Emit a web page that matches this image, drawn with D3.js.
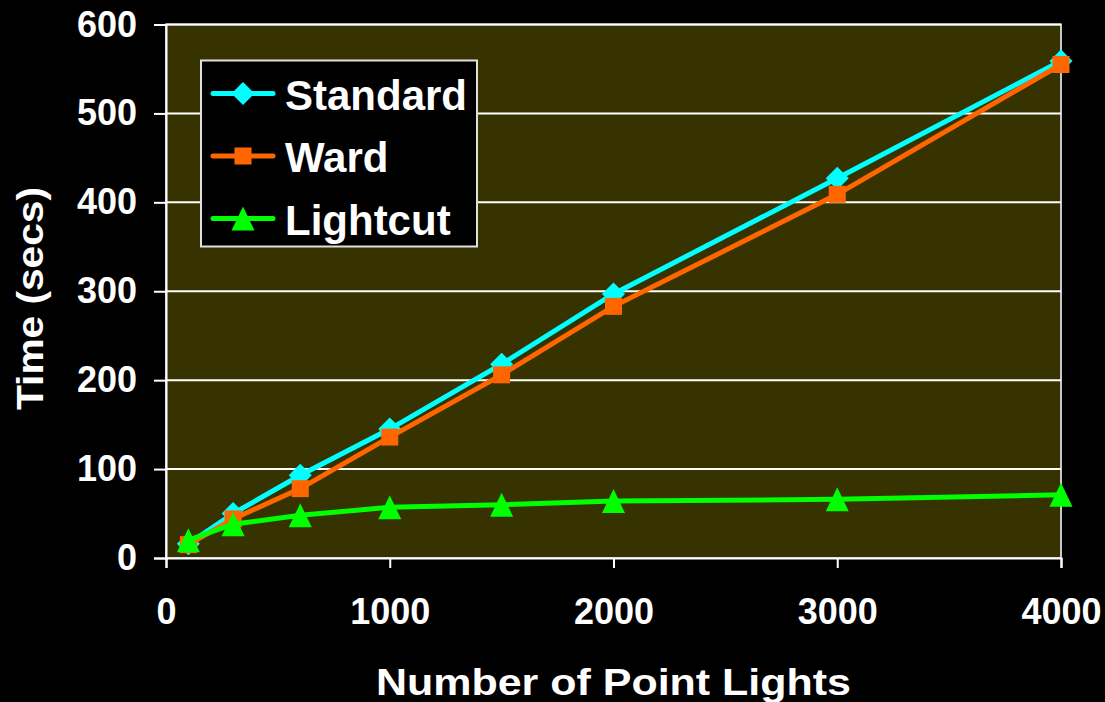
<!DOCTYPE html>
<html>
<head>
<meta charset="utf-8">
<script src="https://cdn.jsdelivr.net/npm/d3@7"></script>
<style>
  body { margin: 0; background: #000; }
  text { font-family: "Liberation Sans", Arial, sans-serif; font-weight: bold; fill: #fff; }
</style>
</head>
<body>
<div id="plot"></div>
<script>
// data
var lights = [100, 300, 600, 1000, 1500, 2000, 3000, 4000];
var standard = [16, 50, 93, 145, 218, 297, 427, 559];
var ward = [15, 44, 78, 136, 206, 283, 409, 555];
var lightcut = [20, 38, 48, 57, 60, 64, 66, 71];
var seriesNames = ["Standard", "Ward", "Lightcut"];
var xTicks = [0, 1000, 2000, 3000, 4000];
var yTicks = [0, 100, 200, 300, 400, 500, 600];

var margin = {top: 24.5, right: 44, bottom: 144, left: 166},
    width = 1105 - margin.left - margin.right,
    height = 702 - margin.top - margin.bottom;

var svg = d3.select("div#plot").append("svg")
    .attr("width", 1105)
    .attr("height", 702)
  .append("g")
    .attr("transform", "translate(" + margin.left + "," + margin.top + ")");

var xScale = d3.scaleLinear().domain([0, 4000]).range([0, width]);
var yScale = d3.scaleLinear().domain([0, 600]).range([height, 0]);

// plot background
svg.append("rect")
    .attr("width", width)
    .attr("height", height)
    .attr("fill", "#363300")
    .attr("stroke", "#c8c8c8")
    .attr("stroke-width", 2);

// grid lines
svg.selectAll(".grid")
    .data(yTicks.slice(1))
    .enter().append("line")
    .attr("x1", 0).attr("x2", width)
    .attr("y1", function(d) { return yScale(d); })
    .attr("y2", function(d) { return yScale(d); })
    .attr("stroke", "#fff")
    .attr("stroke-width", 2);

// axes
var yAxis = svg.append("g")
    .call(d3.axisLeft(yScale).tickValues(yTicks).tickSize(12).tickPadding(17));
var xAxis = svg.append("g")
    .attr("transform", "translate(0," + height + ")")
    .call(d3.axisBottom(xScale).tickValues(xTicks).tickFormat(d3.format("d")).tickSize(10).tickPadding(30));
[xAxis, yAxis].forEach(function(a) {
  a.selectAll("path, line").attr("stroke", "#fff").attr("stroke-width", 2);
  a.selectAll("text").attr("font-size", "36px").attr("fill", "#fff")
    .style("font-family", "'Liberation Sans', Arial, sans-serif").style("font-weight", "bold");
});

// axis titles
svg.append("text")
    .attr("x", width / 2)
    .attr("y", 670.5)
    .attr("text-anchor", "middle")
    .attr("font-size", "37px")
    .attr("textLength", 475)
    .attr("lengthAdjust", "spacingAndGlyphs")
    .text("Number of Point Lights");
svg.append("text")
    .attr("transform", "rotate(-90)")
    .attr("x", -274)
    .attr("y", -123.5)
    .attr("text-anchor", "middle")
    .attr("font-size", "37px")
    .attr("textLength", 223)
    .attr("lengthAdjust", "spacingAndGlyphs")
    .text("Time (secs)");

// marker shapes as drawn by the original chart
var diamond = {draw: function(c) {
  c.moveTo(0, -11.5); c.lineTo(11.5, 0); c.lineTo(0, 11.5); c.lineTo(-11.5, 0); c.closePath();
}};
var square = {draw: function(c) {
  c.moveTo(-8.5, -8.5); c.lineTo(8.5, -8.5); c.lineTo(8.5, 8.5); c.lineTo(-8.5, 8.5); c.closePath();
}};
var triangle = {draw: function(c) {
  c.moveTo(0, -12); c.lineTo(11.5, 12); c.lineTo(-11.5, 12); c.closePath();
}};

var colors = ["#00ffff", "#ff6600", "#00ff00"];
var symbols = [diamond, square, triangle];
var allSeries = [standard, ward, lightcut];

var line = d3.line()
    .x(function(d, i) { return xScale(lights[i]); })
    .y(function(d) { return yScale(d); });

allSeries.forEach(function(vals, s) {
  svg.append("path")
      .datum(vals)
      .attr("fill", "none")
      .attr("stroke", colors[s])
      .attr("stroke-width", 5)
      .attr("d", line);
  svg.selectAll(".m" + s)
      .data(vals)
      .enter().append("path")
      .attr("transform", function(d, i) {
        return "translate(" + xScale(lights[i]) + "," + yScale(d) + ")";
      })
      .attr("d", d3.symbol().type(symbols[s]))
      .attr("fill", colors[s]);
});

// legend
var legend = svg.append("g").attr("transform", "translate(35,36)");
legend.append("rect")
    .attr("width", 276)
    .attr("height", 186)
    .attr("fill", "#000")
    .attr("stroke", "#e0e0e0")
    .attr("stroke-width", 2);
seriesNames.forEach(function(name, s) {
  var y = 33 + s * 62.5;
  legend.append("line")
      .attr("x1", 12).attr("x2", 72)
      .attr("y1", y).attr("y2", y)
      .attr("stroke", colors[s])
      .attr("stroke-width", 5)
      .attr("stroke-linecap", "round");
  legend.append("path")
      .attr("transform", "translate(42," + y + ")")
      .attr("d", d3.symbol().type(symbols[s]))
      .attr("fill", colors[s]);
  legend.append("text")
      .attr("x", 84)
      .attr("y", y + 16)
      .attr("font-size", "42px")
      .text(name);
});
</script>
</body>
</html>
